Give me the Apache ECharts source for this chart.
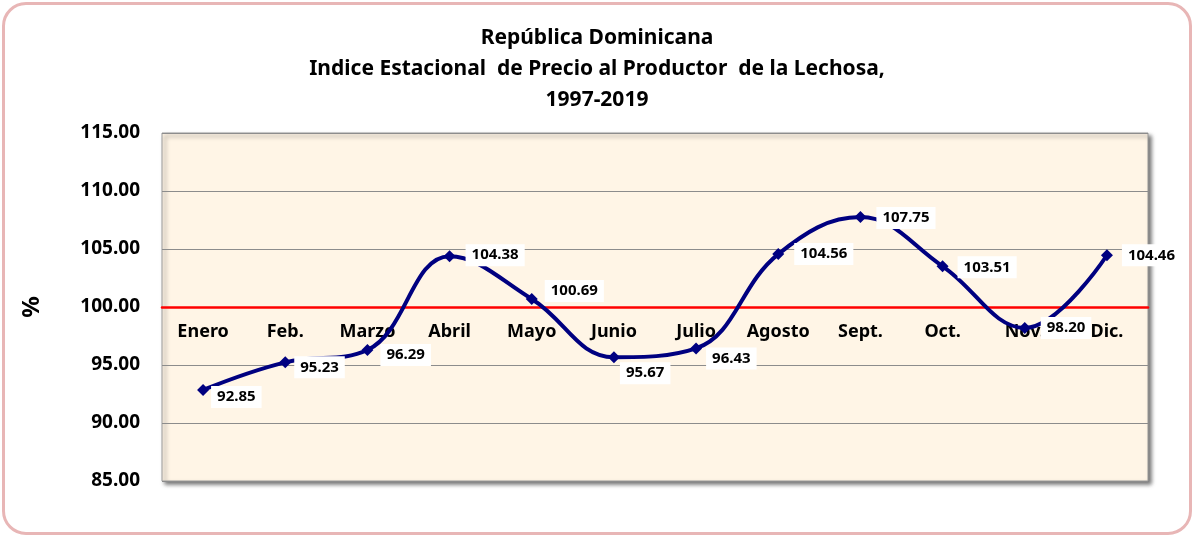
<!DOCTYPE html>
<html>
<head>
<meta charset="utf-8">
<script src="https://cdn.jsdelivr.net/npm/echarts@6/dist/echarts.min.js"></script>
<style>
  html, body { margin: 0; padding: 0; background: #fff; }
  #frame {
    position: absolute; left: 2px; top: 2px; width: 1184px; height: 527px;
    border: 3px solid #E8B6B6; border-radius: 24px; background: #fff;
  }
  #chart { position: absolute; left: 0; top: 0; width: 1194px; height: 537px; }
</style>
</head>
<body>
<div id="frame"></div>
<div id="chart"></div>
<script>
// Seasonal producer price index for papaya, by month
const months = ['Enero', 'Feb.', 'Marzo', 'Abril', 'Mayo', 'Junio', 'Julio', 'Agosto', 'Sept.', 'Oct.', 'Nov.', 'Dic.'];
const indexValues = [92.85, 95.23, 96.29, 104.38, 100.69, 95.67, 96.43, 104.56, 107.75, 103.51, 98.20, 104.46];
const yTicks = [85, 90, 95, 100, 105, 110, 115];
const baseline = 100;

// Nudges for each value label (pixels, relative to the default "right" position)
const labelOffsets = [[-6, 7], [-5, 5], [-1, 5], [2, -1], [-1, -8], [-8, 16], [-4, 10], [2, 0], [2, 1], [1, 1], [2, 0], [1, 0]];

const yMin = yTicks[0], yMax = yTicks[yTicks.length - 1];
const gridTop = 133, gridBottom = 56, chartH = 537;
const gridH = chartH - gridTop - gridBottom;
const axisOffset = -(baseline - yMin) / (yMax - yMin) * gridH;

const font = '"Noto Sans", "DejaVu Sans", sans-serif';

const chart = echarts.init(document.getElementById('chart'));
chart.setOption({
  backgroundColor: 'transparent',
  animation: false,
  title: {
    text: 'República Dominicana\nIndice Estacional  de Precio al Productor  de la Lechosa,\n1997-2019',
    left: 'center',
    top: 18,
    textStyle: { fontFamily: font, fontWeight: 'bold', fontSize: 21, lineHeight: 31, color: '#000' }
  },
  grid: {
    left: 162, right: 46, top: gridTop, bottom: gridBottom,
    show: true,
    backgroundColor: '#FFF5E6',
    borderColor: '#9a9a9a',
    borderWidth: 1,
    shadowColor: 'rgba(0,0,0,0.55)',
    shadowBlur: 4,
    shadowOffsetX: 3,
    shadowOffsetY: 3
  },
  xAxis: {
    type: 'category',
    data: months,
    boundaryGap: true,
    offset: axisOffset,
    axisLine: { show: true, lineStyle: { color: '#FF0000', width: 2.5 } },
    axisTick: { show: false },
    axisLabel: { margin: 16, fontFamily: font, fontWeight: 'bold', fontSize: 18, color: '#000' },
    splitLine: { show: false },
    z: 1
  },
  yAxis: {
    type: 'value',
    min: yMin, max: yMax, interval: 5,
    name: '%',
    nameLocation: 'middle',
    nameRotate: 90,
    nameGap: 118,
    nameTextStyle: { fontFamily: font, fontWeight: 'bold', fontSize: 24, color: '#000' },
    axisLine: { show: false },
    axisTick: { show: false },
    axisLabel: {
      margin: 22, fontFamily: font, fontWeight: 'bold', fontSize: 19, color: '#000',
      formatter: v => v.toFixed(2)
    },
    splitLine: { show: true, lineStyle: { color: '#8c8c8c', width: 1.2 } }
  },
  series: [{
    type: 'line',
    data: indexValues.map((v, i) => ({
      value: v,
      label: { offset: labelOffsets[i] }
    })),
    smooth: 0.4,
    symbol: 'diamond',
    symbolSize: 12,
    lineStyle: { color: '#000080', width: 4 },
    itemStyle: { color: '#000080' },
    z: 3,
    label: {
      show: true,
      position: 'right',
      distance: 8,
      formatter: p => p.value.toFixed(2),
      backgroundColor: '#fff',
      padding: [4, 6, 3, 6],
      fontFamily: font,
      fontWeight: 'bold',
      fontSize: 15,
      color: '#000'
    }
  }]
});
</script>
</body>
</html>
